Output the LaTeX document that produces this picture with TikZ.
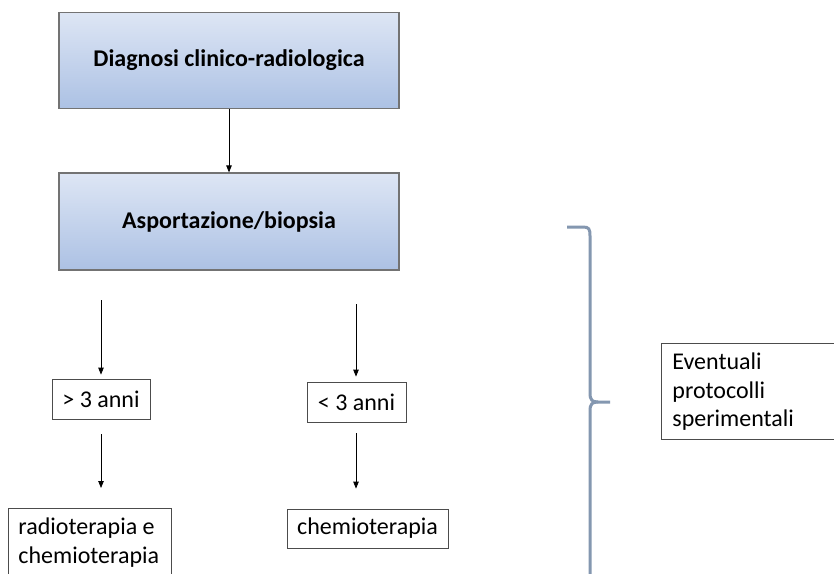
\documentclass[tikz,border=0pt]{standalone}
\usepackage{fontspec}
\setmainfont{Carlito}
\usetikzlibrary{arrows.meta}
\definecolor{gtop}{HTML}{EEF2FA}
\definecolor{gmid}{HTML}{A9BFE3}
\definecolor{gbot}{HTML}{BFCEEA}
\definecolor{bracec}{HTML}{8497B0}
\pgfdeclareverticalshading{boxshade}{100bp}{color(0bp)=(gbot); color(8bp)=(gbot); color(22bp)=(gmid); color(92bp)=(gtop); color(100bp)=(gtop)}
\begin{document}
\begin{tikzpicture}[x=1pt,y=-1pt,
  txt/.style={font=\fontsize{24}{28.5}\selectfont},
  mainbox/.style={font=\fontsize{24}{28.5}\selectfont\bfseries,draw=black!55,line width=1.2pt,
    shading=boxshade,minimum width=340pt,inner sep=0pt},
  smallbox/.style={txt,draw=black!70,line width=0.8pt,inner sep=0pt},
  arr/.style={draw=black,line width=0.8pt,-{Triangle[length=7pt,width=5.5pt]}}
]
\clip (0,0) rectangle (834,573);
\fill[white] (0,0) rectangle (834,573);
\node[mainbox,minimum height=96pt] (diag) at (229,60.5) {Diagnosi clinico-radiologica};
\node[mainbox,minimum height=97pt] (asp) at (229,221.5) {Asportazione/biopsia};
\draw[arr] (diag.south) -- (asp.north);

\node[smallbox,minimum width=98pt,minimum height=40pt] (gt) at (101,399) {> 3 anni};
\node[smallbox,minimum width=99pt,minimum height=40pt] (lt) at (356.5,402) {< 3 anni};
\node[smallbox,anchor=north west,inner xsep=10pt] (radio) at (8,508)
  {\begin{minipage}[c][80pt][t]{143pt}\vspace*{6.5pt}\strut radioterapia e\\\strut chemioterapia\end{minipage}};
\node[smallbox,minimum width=161pt,minimum height=39pt] (chemio) at (367.5,528.5) {chemioterapia};
\node[smallbox,anchor=north west,inner xsep=11pt] (event) at (661,343)
  {\begin{minipage}[c][96pt][t]{160pt}\vspace*{6.5pt}\strut Eventuali\\\strut protocolli\\\strut sperimentali\end{minipage}};

\coordinate (g1) at (101,300);
\coordinate (g2) at (101,434);
\coordinate (l1) at (356,304);
\coordinate (l2) at (356,433);
\draw[arr,shorten >=4pt] (g1) -- (gt.north);
\draw[arr,shorten >=20pt] (g2) -- (g2 |- radio.north);
\draw[arr,shorten >=5pt] (l1) -- (l1 |- lt.north);
\draw[arr,shorten >=20pt] (l2) -- (l2 |- chemio.north);

\draw[bracec,line width=3pt] (567,227) -- (583,227) .. controls (589,227) and (590,229) .. (590,236)
  -- (590,393) .. controls (590,400) and (592,402) .. (598,402) -- (610,402);
\draw[bracec,line width=3pt] (598,402) .. controls (592,402) and (590,404) .. (590,411) -- (590,580);
\end{tikzpicture}
\end{document}
